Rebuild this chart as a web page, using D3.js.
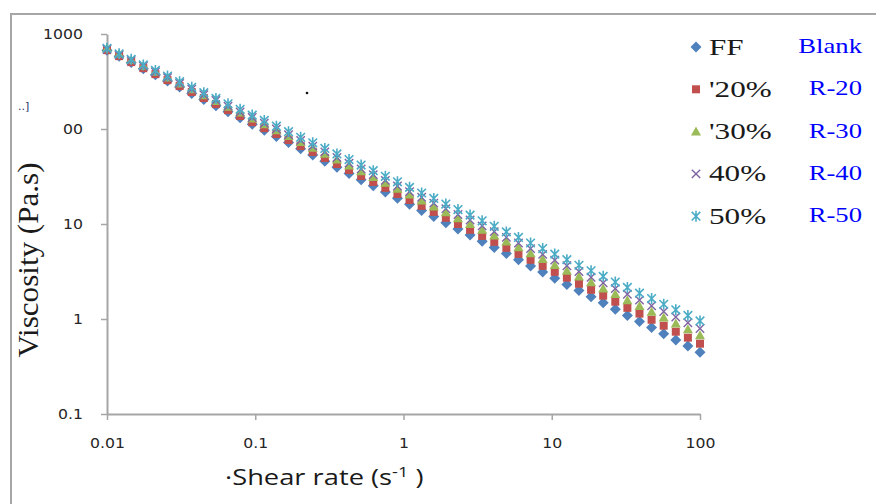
<!DOCTYPE html>
<html><head><meta charset="utf-8">
<script src="https://cdn.jsdelivr.net/npm/d3@7"></script>
<style>
html,body{margin:0;padding:0;background:#fff;}
svg{display:block;}
</style></head>
<body>
<svg id="chart" width="876" height="504"></svg>
<script>
// ---- data ----
const seriesNames = ["FF", "'20%", "'30%", "40%", "50%"];
const sampleCodes = ["Blank", "R-20", "R-30", "R-40", "R-50"];
const shearRate = [0.01,0.01207,0.01456,0.01758,0.02121,0.0256,0.03089,0.03728,0.04498,0.05429,
  0.06551,0.07906,0.09541,0.1151,0.1389,0.1677,0.2024,0.2442,0.2947,0.3556,
  0.4292,0.5179,0.6251,0.7543,0.9103,1.0985,1.3257,1.5999,1.9307,2.330,
  2.812,3.393,4.095,4.942,5.964,7.197,8.685,10.48,12.65,15.26,
  18.42,22.23,26.83,32.37,39.07,47.15,56.90,68.66,82.86,100];
const viscFF = [676,582,501,432,372,320,276,237,205,176,
  152,131,112,96.9,83.4,71.9,61.9,53.3,45.9,39.5,
  34.0,29.3,25.2,21.7,18.7,16.1,13.9,12.0,10.3,8.87,
  7.64,6.58,5.67,4.88,4.20,3.62,3.12,2.68,2.31,1.99,
  1.71,1.48,1.27,1.09,0.943,0.812,0.699,0.602,0.519,0.447];
const visc20 = [676,585,506,437,378,327,283,245,212,183,
  158,137,118,102,88.6,76.6,66.2,57.3,49.5,42.8,
  37.0,32.0,27.7,24.0,20.7,17.9,15.5,13.4,11.6,10.0,
  8.68,7.50,6.49,5.61,4.85,4.20,3.63,3.14,2.72,2.35,
  2.03,1.76,1.52,1.31,1.14,0.982,0.850,0.735,0.636,0.550];
const visc30 = [708,614,533,463,401,348,302,262,227,197,
  171,149,129,112,97.1,84.2,73.1,63.4,55.0,47.8,
  41.4,36.0,31.2,27.1,23.5,20.4,17.7,15.3,13.3,11.5,
  10.0,8.70,7.55,6.55,5.68,4.93,4.28,3.71,3.22,2.80,
  2.43,2.10,1.83,1.58,1.37,1.19,1.04,0.898,0.779,0.676];
const visc40 = [692,603,525,457,398,347,302,263,229,200,
  174,151,132,115,100,87.1,75.9,66.1,57.5,50.1,
  43.7,38.0,33.1,28.8,25.1,21.9,19.1,16.6,14.5,12.6,
  11.0,9.55,8.32,7.24,6.31,5.50,4.79,4.17,3.63,3.16,
  2.75,2.40,2.09,1.82,1.58,1.38,1.20,1.05,0.912,0.794];
const visc50 = [708,619,541,472,413,361,315,275,241,210,
  184,161,140,123,107,93.6,81.8,71.5,62.5,54.6,
  47.7,41.7,36.4,31.8,27.8,24.3,21.2,18.6,16.2,14.2,
  12.4,10.8,9.46,8.26,7.22,6.31,5.51,4.82,4.21,3.68,
  3.22,2.81,2.45,2.15,1.87,1.64,1.43,1.25,1.09,0.955];
const xTickValues = [0.01, 0.1, 1, 10, 100];
const xTickLabels = ["0.01", "0.1", "1", "10", "100"];
const yTickValues = [0.1, 1, 10, 100, 1000];
const yTickLabels = ["0.1", "1", "10", "00", "1000"];

// ---- styling ----
const colors = ["#4F81BD", "#C0504D", "#9BBB59", "#8064A2", "#4BACC6"];
const shapes = ["diamond", "square", "triangle", "x", "star"];
const SX = 1.3; // horizontal stretch of all text

const svg = d3.select("#chart");
const defs = svg.append("defs");
defs.append("filter").attr("id", "soft").attr("x", "-50%").attr("y", "-50%")
  .attr("width", "200%").attr("height", "200%")
  .append("feGaussianBlur").attr("stdDeviation", 0.45);

const x = d3.scaleLog().domain([0.01, 100]).range([107, 700]);
const y = d3.scaleLog().domain([0.1, 1000]).range([414, 34]);

// outer frame (top and left)
svg.append("line").attr("x1", 11).attr("x2", 876).attr("y1", 14).attr("y2", 14)
  .attr("stroke", "#a6a6a6").attr("stroke-width", 2);
svg.append("line").attr("x1", 11).attr("x2", 11).attr("y1", 13).attr("y2", 504)
  .attr("stroke", "#a6a6a6").attr("stroke-width", 2);

// axes
const axisColor = "#a6a6a6";
const tickFont = "'DejaVu Sans', Verdana, sans-serif";
const TSX = 1.12;
const gx = svg.append("g").attr("transform", "translate(0,414)")
  .call(d3.axisBottom(x).tickValues(xTickValues)
    .tickFormat((d, i) => xTickLabels[i]).tickSizeInner(6).tickSizeOuter(0).tickPadding(18));
const gy = svg.append("g").attr("transform", "translate(107,0)")
  .call(d3.axisLeft(y).tickValues(yTickValues)
    .tickFormat((d, i) => yTickLabels[i]).tickSizeInner(6).tickSizeOuter(0).tickPadding(18));
[gx, gy].forEach(g => {
  g.select(".domain").attr("stroke", axisColor).attr("stroke-width", 2);
  g.selectAll(".tick line").attr("stroke", axisColor).attr("stroke-width", 1.5);
  g.selectAll(".tick text").attr("fill", "#262626")
    .style("font-family", tickFont).style("font-size", "14px");
});
gx.selectAll(".tick text").attr("transform", `scale(${TSX},1)`);
gy.selectAll(".tick text").each(function () {
  const t = d3.select(this);
  const xx = +t.attr("x");
  t.attr("x", xx / TSX).attr("transform", `scale(${TSX},1)`);
});

// markers
function drawMarker(g, shape, color, cx, cy) {
  const m = g.append("g").attr("transform", `translate(${cx},${cy})`);
  if (shape === "diamond") {
    m.append("path").attr("d", "M0,-5.5L5.5,0L0,5.5L-5.5,0Z").attr("fill", color);
  } else if (shape === "square") {
    m.append("rect").attr("x", -4).attr("y", -4).attr("width", 8).attr("height", 8).attr("fill", color);
  } else if (shape === "triangle") {
    m.append("path").attr("d", "M0,-5L5,4L-5,4Z").attr("fill", color);
  } else if (shape === "x") {
    m.append("path").attr("d", "M-4.2,-4.2L4.2,4.2M-4.2,4.2L4.2,-4.2")
      .attr("stroke", color).attr("stroke-width", 1.4).attr("fill", "none");
  } else if (shape === "star") {
    m.append("path").attr("d", "M-4.3,-4.3L4.3,4.3M-4.3,4.3L4.3,-4.3M0,-5.5L0,5.5")
      .attr("stroke", color).attr("stroke-width", 1.6).attr("fill", "none");
  }
}

const seriesValues = [viscFF, visc20, visc30, visc40, visc50];
const plot = svg.append("g").attr("filter", "url(#soft)");
seriesValues.forEach((vals, s) => {
  const g = plot.append("g").attr("class", "series");
  vals.forEach((v, i) => drawMarker(g, shapes[s], colors[s], x(shearRate[i]), y(v)));
});

// legend
const serif = "'Liberation Serif', 'Times New Roman', serif";
const leg = svg.append("g");
seriesNames.forEach((name, i) => {
  const my = 47 + i * 42.3;
  const mg = leg.append("g").attr("filter", "url(#soft)");
  drawMarker(mg, shapes[i], colors[i], 696, my);
  leg.append("text").attr("transform", `translate(709,${my + 7.5}) scale(${SX},1)`)
    .style("font-family", serif).style("font-size", "24px").attr("fill", "#1a1a1a")
    .text(name);
  leg.append("text").attr("transform", `translate(862,${my + 6}) scale(${SX},1)`)
    .attr("text-anchor", "end")
    .style("font-family", serif).style("font-size", "20.5px").attr("fill", "#0000ff")
    .text(sampleCodes[i]);
});

// axis titles
const xt = svg.append("text").attr("transform", `translate(225,485) scale(${SX},1)`)
  .style("font-family", "'Open Sans', 'Liberation Sans', sans-serif").style("font-size", "21px")
  .attr("fill", "#1a1a1a");
xt.append("tspan").text("\u00B7Shear rate (s");
xt.append("tspan").attr("dy", -8).style("font-size", "14px").text("-1");
xt.append("tspan").attr("dy", 8).text(" )");

svg.append("text").attr("transform", "translate(38,260) rotate(-90) scale(1,1.1)")
  .attr("text-anchor", "middle")
  .attr("textLength", 195).attr("lengthAdjust", "spacingAndGlyphs")
  .style("font-family", serif).style("font-size", "26px").attr("fill", "#1a1a1a")
  .text("Viscosity (Pa.s)");

// stray marks present in the source image
svg.append("text").attr("transform", "translate(18,110)")
  .style("font-family", tickFont).style("font-size", "11px").attr("fill", "#223366")
  .text("..]");
svg.append("circle").attr("cx", 307).attr("cy", 93).attr("r", 1.3).attr("fill", "#111");
</script>
</body></html>
